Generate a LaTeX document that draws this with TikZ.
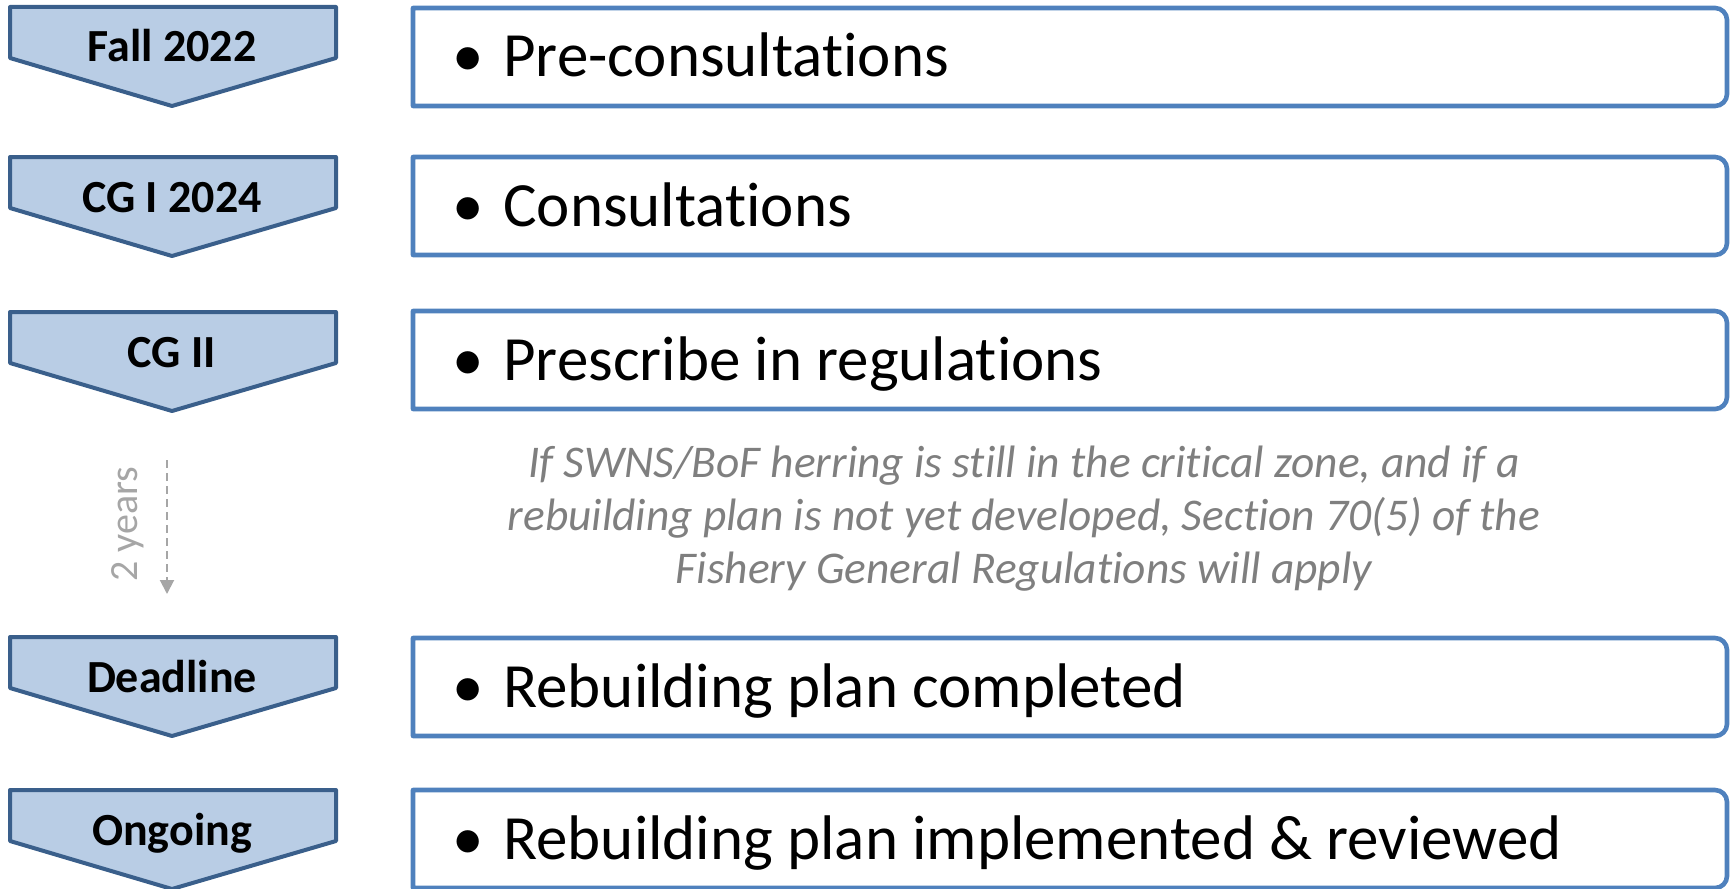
\documentclass[tikz,border=0pt]{standalone}
\usepackage{fontspec}
\setmainfont[Ligatures={NoCommon,NoContextual}]{Carlito}
\usetikzlibrary{arrows.meta}
\definecolor{chevfill}{HTML}{B9CDE5}
\definecolor{chevdraw}{HTML}{3A5F8B}
\definecolor{boxdraw}{HTML}{4F81BD}
\definecolor{notegray}{HTML}{7F7F7F}
\definecolor{yeargray}{HTML}{A6A6A6}
\begin{document}
\begin{tikzpicture}[x=0.5pt,y=-0.5pt,
  chev/.style={fill=chevfill,draw=chevdraw,line width=2pt,line join=round},
  boxline/.style={draw=boxdraw,line width=2.3pt,line join=round},
  chevlabel/.style={font=\fontsize{23pt}{27pt}\selectfont\bfseries,anchor=base,inner sep=0pt},
  boxtext/.style={font=\fontsize{31.5pt}{36pt}\selectfont,anchor=base west,inner sep=0pt},
  bulletst/.style={font=\fontsize{31.5pt}{36pt}\selectfont,anchor=base,inner sep=0pt},
  note/.style={font=\fontsize{22.7pt}{26.5pt}\selectfont\itshape,text=notegray,align=center,inner sep=0pt},
  yearlabel/.style={font=\fontsize{20pt}{24pt}\selectfont,text=yeargray,rotate=90,inner sep=0pt}]
\useasboundingbox (0,0) rectangle (1733,888);
\foreach \i/\ct/\bt/\lab/\txt in {1/7/8/Fall 2022/Pre-consultations,
    2/157/157/CG I 2024/Consultations,
    3/312/311/CG II/Prescribe in regulations,
    4/637/638/Deadline/Rebuilding plan completed,
    5/790/790/Ongoing/Rebuilding plan implemented \& reviewed}{
  \draw[chev] (10,\ct) -- (336,\ct) -- (336,\ct+51) -- (172,\ct+99) -- (10,\ct+51) -- cycle;
  \node[chevlabel] (c\i) at (172,\ct+55) {\lab};
  \draw[boxline] (413,\bt) -- (1715,\bt) arc[start angle=90,end angle=0,radius=6pt]
     -- (1727,\bt+86) arc[start angle=0,end angle=-90,radius=6pt] -- (413,\bt+98) -- cycle;
  \node[bulletst] (b\i) at (468,\bt+69) {•};
  \node[boxtext] (t\i) at (503,\bt+69) {\txt};
}
\node[note] (n) at (1024,519) {If SWNS/BoF herring is still in the critical zone, and if a\\rebuilding plan is not yet developed, Section 70(5) of the\\Fishery General Regulations will apply};
\node[yearlabel] (y) at (128,524) {2 years};
\coordinate (ya) at (167,460);
\coordinate (yb) at (167,594);
\draw[yeargray,line width=1pt,dash pattern=on 4pt off 2.5pt,-{Triangle[length=7pt,width=7pt]}] (ya) -- (yb);
\end{tikzpicture}
\end{document}
